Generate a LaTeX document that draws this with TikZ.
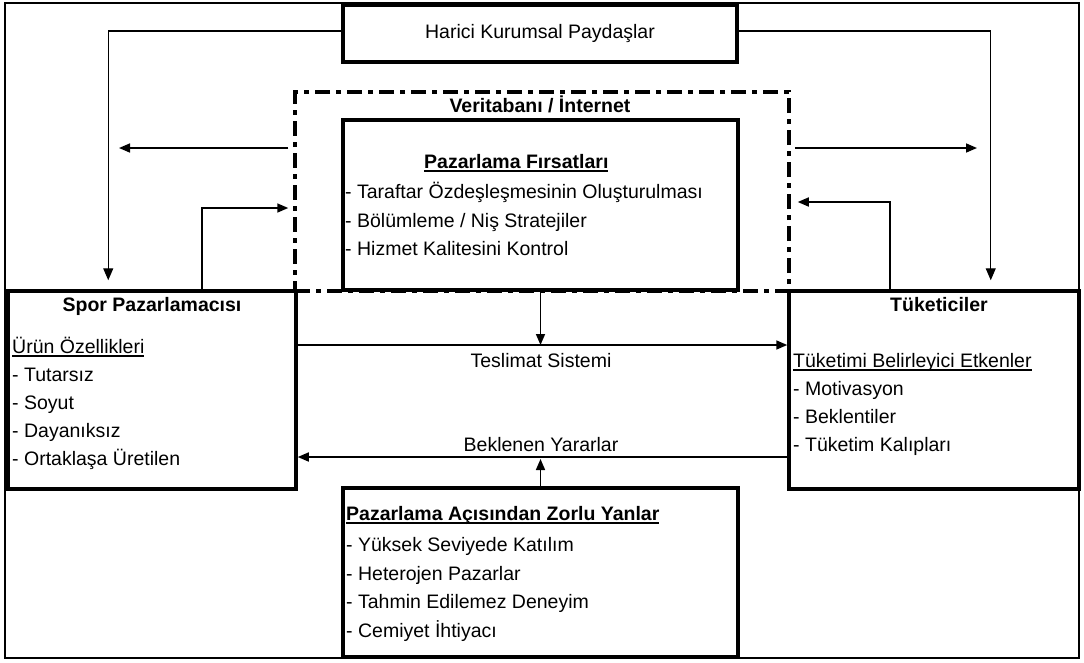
\documentclass[tikz,border=0pt]{standalone}
\usepackage{fontspec}
\setmainfont{Liberation Sans}
\usepackage{tikz}
\usetikzlibrary{arrows.meta}
\newsavebox{\ulbox}
\newcommand{\ulin}[1]{\sbox{\ulbox}{#1}\rlap{\rule[-3.5pt]{\wd\ulbox}{1.6pt}}\usebox{\ulbox}}

\begin{document}
\begin{tikzpicture}[x=1pt,y=-1pt]
\tikzstyle{every node}+=[inner sep=0pt,font=\fontsize{19.5}{23}\selectfont]
\tikzstyle{box}=[draw,line width=3.5pt]
\tikzstyle{dbbox}=[draw,line width=3.5pt,dash pattern=on 15pt off 6pt on 5pt off 6pt]
\tikzstyle{head}=[anchor=base,font=\fontsize{19.5}{23}\selectfont\bfseries]
\tikzstyle{item}=[anchor=base west]
\tikzstyle{conn}=[line width=1.2pt,-{Triangle[length=12pt,width=10pt]}]
\tikzstyle{arr}=[line width=1.6pt,-{Triangle[length=11pt,width=9pt]}]
\useasboundingbox (0,0) rectangle (1084,662);
\draw [line width=2pt] (5,3) rectangle (1079,658);
\node [dbbox,minimum width=494,minimum height=199] (db) at (542,191.5) {};
\node [head] (vt) at (540,112) {Veritabanı / İnternet};
\node [box,minimum width=394,minimum height=57] (harici) at (540,33.5) {};
\node [anchor=base] (hariciT) at (540,38) {Harici Kurumsal Paydaşlar};
\node [box,minimum width=395,minimum height=170] (firsat) at (540.5,205) {};
\node [head,anchor=base west] (firsatT) at (424,168) {\ulin{Pazarlama Fırsatları}};
\node [item] (f1) at (345,198) {- Taraftar Özdeşleşmesinin Oluşturulması};
\node [item] (f2) at (345,227) {- Bölümleme / Niş Stratejiler};
\node [item] (f3) at (345,255) {- Hizmet Kalitesini Kontrol};
\node [box,minimum width=288,minimum height=198] (pazarlamaci) at (152,390) {};
\node [head] (pazarlamaciT) at (152,311) {Spor Pazarlamacısı};
\node [item] (p0) at (12,353) {\ulin{Ürün Özellikleri}};
\node [item] (p1) at (12,381) {- Tutarsız};
\node [item] (p2) at (12,409) {- Soyut};
\node [item] (p3) at (12,437) {- Dayanıksız};
\node [item] (p4) at (12,465) {- Ortaklaşa Üretilen};
\node [box,minimum width=290,minimum height=198] (tuketici) at (934,390) {};
\node [head] (tuketiciT) at (939,311) {Tüketiciler};
\node [item] (t0) at (793,367) {\ulin{Tüketimi Belirleyici Etkenler}};
\node [item] (t1) at (793,395) {- Motivasyon};
\node [item] (t2) at (793,423) {- Beklentiler};
\node [item] (t3) at (793,451) {- Tüketim Kalıpları};
\node [box,minimum width=395,minimum height=169] (zorlu) at (540.5,572.5) {};
\node [head,anchor=base west] (zorluT) at (346,520) {\ulin{Pazarlama Açısından Zorlu Yanlar}};
\node [item] (z1) at (346,551) {- Yüksek Seviyede Katılım};
\node [item] (z2) at (346,580) {- Heterojen Pazarlar};
\node [item] (z3) at (346,608) {- Tahmin Edilemez Deneyim};
\node [item] (z4) at (346,637) {- Cemiyet İhtiyacı};
\node [anchor=base] (teslimat) at (541,367) {Teslimat Sistemi};
\node [anchor=base] (yarar) at (541,451) {Beklenen Yararlar};
\coordinate (dbL) at (119,148);
\coordinate (dbR) at (977,148);
\draw [conn,shorten >=9pt] ([yshift=2.5]harici.west) -| ([xshift=102]pazarlamaci.north west);
\draw [conn,shorten >=9pt] ([yshift=2.5]harici.east) -| ([xshift=-90]tuketici.north east);
\draw [arr,shorten <=5pt] ([yshift=43.5]db.west) -- (dbL);
\draw [arr,shorten <=4pt] ([yshift=43.5]db.east) -- (dbR);
\draw [arr,shorten >=5pt] ([xshift=196]pazarlamaci.north west) |- ([yshift=-16.5]db.west);
\draw [arr,shorten >=7pt] ([xshift=-191]tuketici.north east) |- ([yshift=-10.5]db.east);
\draw [arr] ([yshift=45]pazarlamaci.east) coordinate (tsA) -- ([yshift=45]tuketici.west);
\draw [arr] (firsat.south) -- (firsat.south |- tsA);
\draw [arr] ([yshift=-67]tuketici.west) coordinate (byA) -- ([yshift=-67]pazarlamaci.east);
\draw [arr,shorten >=2pt] (zorlu.north) -- (zorlu.north |- byA);
\end{tikzpicture}
\end{document}
